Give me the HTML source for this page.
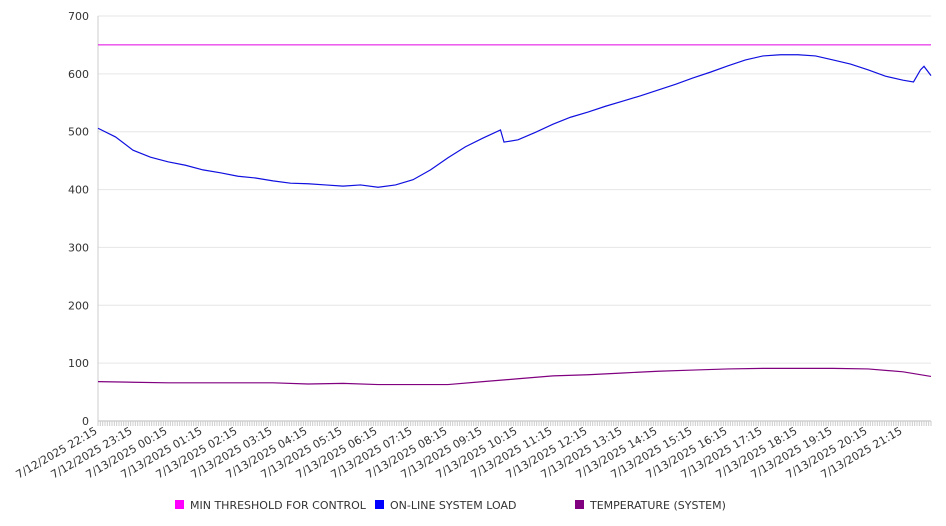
<!DOCTYPE html>
<html><head><meta charset="utf-8"><style>
body{margin:0;background:#fff;}
svg{display:block;font-family:"DejaVu Sans","Liberation Sans",sans-serif;}
</style></head><body>
<svg id="chart" width="946" height="526">
<g id="grid"></g>
<g id="yaxis"></g>
<g id="xaxis"></g>
<g id="series"></g>
<g id="legend"></g>
</svg>
<script>
const yTicks=[0,100,200,300,400,500,600,700];
const xLabels=["7/12/2025 22:15","7/12/2025 23:15","7/13/2025 00:15","7/13/2025 01:15","7/13/2025 02:15","7/13/2025 03:15","7/13/2025 04:15","7/13/2025 05:15","7/13/2025 06:15","7/13/2025 07:15","7/13/2025 08:15","7/13/2025 09:15","7/13/2025 10:15","7/13/2025 11:15","7/13/2025 12:15","7/13/2025 13:15","7/13/2025 14:15","7/13/2025 15:15","7/13/2025 16:15","7/13/2025 17:15","7/13/2025 18:15","7/13/2025 19:15","7/13/2025 20:15","7/13/2025 21:15"];
// hours since 7/12 22:15
const loadHours=[0,0.5,1,1.5,2,2.5,3,3.5,4,4.5,5,5.5,6,6.5,7,7.5,8,8.5,9,9.5,10,10.5,11,11.5,11.6,12,12.5,13,13.5,14,14.5,15,15.5,16,16.5,17,17.5,18,18.5,19,19.5,20,20.5,21,21.5,22,22.5,23,23.3,23.5,23.6,23.8];
const loadValues=[506,491,468,456,448,442,434,429,423,420,415,411,410,408,406,408,404,408,417,434,455,474,489,503,482,486,499,513,525,534,544,553,562,572,582,593,603,614,624,631,633,633,631,624,617,607,596,589,586,607,613,597];
const tempHours=[0,1,2,3,4,5,6,7,8,9,10,11,12,13,14,15,16,17,18,19,20,21,22,23,23.8];
const tempValues=[68,67,66,66,66,66,64,65,63,63,63,68,73,78,80,83,86,88,90,91,91,91,90,85,77];
const threshold=650;
const NS="http://www.w3.org/2000/svg";
const X0=98,X1=931,PXH=35,Y0=421,Y1=16,YMAX=700;
const xs=h=>X0+h*PXH;
const ys=v=>Y0-(v/YMAX)*(Y0-Y1);
function mk(tag,attrs,parent){const e=document.createElementNS(NS,tag);for(const k in attrs)e.setAttribute(k,attrs[k]);parent.appendChild(e);return e;}
const grid=document.getElementById('grid'),yaxis=document.getElementById('yaxis'),xaxis=document.getElementById('xaxis'),series=document.getElementById('series'),legend=document.getElementById('legend');
yTicks.forEach(v=>{
 const l=mk('line',{x1:X0,x2:X1,y1:ys(v),y2:ys(v),stroke:v===0?'#bbb':'#e6e6e6','stroke-width':1},grid);
 
 
 const t=mk('text',{x:X0-9,y:ys(v)+4,'text-anchor':'end','font-size':11,fill:'#333'},yaxis);
 t.textContent=v;
 
 
});
const ya=mk('line',{x1:X0,x2:X0,y1:Y1,y2:Y0,stroke:'#ccc'},yaxis);


for(let m=0;m<=23.8*60;m+=4){
 const tk=mk('line',{x1:xs(m/60),x2:xs(m/60),y1:Y0,y2:Y0+5,stroke:'#ccc'},xaxis);
 
 
}
xLabels.forEach((s,i)=>{
 const x=xs(i),y=Y0+12;
 const t=mk('text',{x:x,y:y,'text-anchor':'end','font-size':11,fill:'#333',transform:`rotate(-30 ${x} ${y})`},xaxis);
 t.textContent=s;
 
 
});
const th=mk('line',{x1:X0,x2:X1,y1:ys(threshold),y2:ys(threshold),stroke:'#e000e0','stroke-width':1},series);


const lp=mk('polyline',{points:loadHours.map((h,i)=>xs(h)+','+ys(loadValues[i])).join(' '),fill:'none',stroke:'#1010e0','stroke-width':1.2},series);


const tp=mk('polyline',{points:tempHours.map((h,i)=>xs(h)+','+ys(tempValues[i])).join(' '),fill:'none',stroke:'#800080','stroke-width':1.2},series);


const leg=[["MIN THRESHOLD FOR CONTROL","#ff00ff",175],["ON-LINE SYSTEM LOAD","#0000ff",375],["TEMPERATURE (SYSTEM)","#800080",575]];
leg.forEach(([n,c,x])=>{
 const g=mk('g',{},legend);
 
 
 mk('rect',{x:x,y:500,width:9,height:9,fill:c},g);
 const t=mk('text',{x:x+15,y:509,'font-size':11,fill:'#333'},g);
 t.textContent=n;
});
</script>
</body></html>
